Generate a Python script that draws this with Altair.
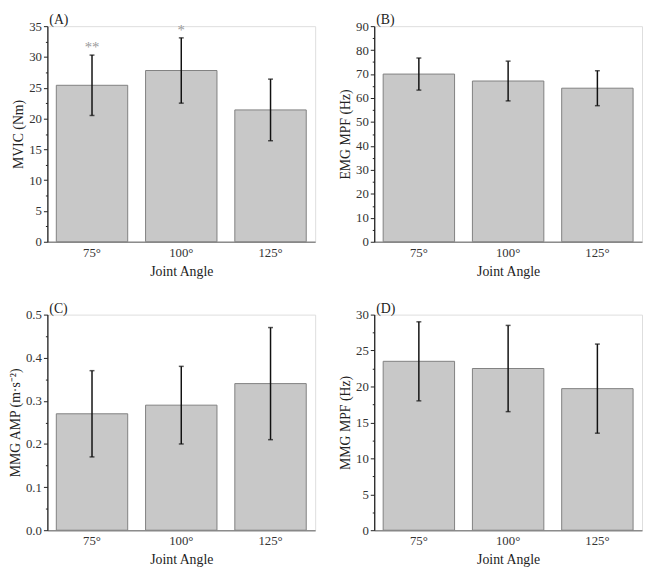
import altair as alt
import pandas as pd

angles = ["75°", "100°", "125°"]

mvic_mean = [25.4, 27.8, 21.4]
mvic_sd = [4.9, 5.3, 5.0]
mvic_sig = ["**", "*", ""]

emg_mean = [70.0, 67.1, 64.1]
emg_sd = [6.7, 8.3, 7.3]

amp_mean = [0.27, 0.29, 0.34]
amp_sd = [0.10, 0.09, 0.13]

mpf_mean = [23.5, 22.5, 19.7]
mpf_sd = [5.5, 6.0, 6.2]

FONT = "Liberation Serif"
W, H = 272, 219


def panel(mean, sd, ytitle, ymax, major, minor, tag, fmt, sig=None):
    df = pd.DataFrame({
        "angle": angles,
        "mean": mean,
        "lo": [m - s for m, s in zip(mean, sd)],
        "hi": [m + s for m, s in zip(mean, sd)],
        "sig": sig if sig else [""] * len(angles),
    })
    n = int(round(ymax / minor))
    vals = [round(i * minor, 4) for i in range(n + 1)]
    test = f"abs(datum.value/{major} - round(datum.value/{major})) < 0.001"
    x = alt.X(
        "angle:N", sort=angles, title="Joint Angle",
        scale=alt.Scale(paddingInner=0.2, paddingOuter=0.1),
        axis=alt.Axis(labelAngle=0, ticks=False, domainColor="#8c8c8c", domainWidth=1.5,
                      labelFont=FONT, labelFontSize=13, labelColor="#333333", labelPadding=5,
                      titleFont=FONT, titleFontSize=14, titleFontWeight="normal",
                      titleColor="#222222", titlePadding=5),
    )
    yscale = alt.Scale(domain=[0, ymax], nice=False, zero=True)
    yaxis = alt.Axis(
        values=vals,
        labelExpr=f"{test} ? format(datum.value, '{fmt}') : ''",
        labelOverlap=False,
        tickSize={"condition": {"test": test, "value": 4}, "value": 2},
        tickColor="#222222", domainColor="#222222", domainWidth=1.3,
        grid=False, labelFont=FONT, labelFontSize=13, labelColor="#333333", labelPadding=2,
        titleFont=FONT, titleFontSize=14, titleFontWeight="normal", titleColor="#222222",
        titlePadding=3,
    )

    def yenc(field):
        return alt.Y(f"{field}:Q", title=ytitle, scale=yscale, axis=yaxis)

    xs = alt.X("angle:N", sort=angles, title="Joint Angle")
    base = alt.Chart(df)
    bars = base.mark_bar(color="#c8c8c8", stroke="#808080", strokeWidth=1).encode(
        x=x, y=yenc("mean")
    )
    rule = base.mark_rule(color="#111111", strokeWidth=1.5).encode(
        x=xs, y=yenc("lo"), y2="hi:Q"
    )
    cap_lo = base.mark_tick(color="#111111", thickness=1.5, size=5, orient="horizontal").encode(
        x=xs, y=yenc("lo")
    )
    cap_hi = base.mark_tick(color="#111111", thickness=1.5, size=5, orient="horizontal").encode(
        x=xs, y=yenc("hi")
    )
    layers = [bars, rule, cap_lo, cap_hi]
    if sig:
        stars = base.mark_text(fill="#9a9a9a", fontSize=15, font=FONT, baseline="alphabetic", dy=-3).encode(
            x=xs, y=yenc("hi"), text="sig:N"
        )
        layers.append(stars)
    return alt.layer(*layers).properties(
        width=W, height=H,
        title=alt.TitleParams(tag, anchor="start", frame="group", font=FONT, fontSize=14,
                              fontWeight="normal", color="#222222", offset=-7, dx=2),
    )


a = panel(mvic_mean, mvic_sd, "MVIC (Nm)", 35, 5, 2.5, "(A)", "d", mvic_sig)
b = panel(emg_mean, emg_sd, "EMG MPF (Hz)", 90, 10, 5, "(B)", "d")
c = panel(amp_mean, amp_sd, "MMG AMP (m·s⁻²)", 0.5, 0.1, 0.05, "(C)", ".1f")
d = panel(mpf_mean, mpf_sd, "MMG MPF (Hz)", 30, 5, 2.5, "(D)", "d")

chart = alt.concat(a, b, c, d, columns=2, spacing={"row": 22, "column": 22}).properties(
    padding=0
).configure_view(stroke=None).configure(background="white")

chart.save("out.html", embed_options={"renderer": "svg", "actions": False})
